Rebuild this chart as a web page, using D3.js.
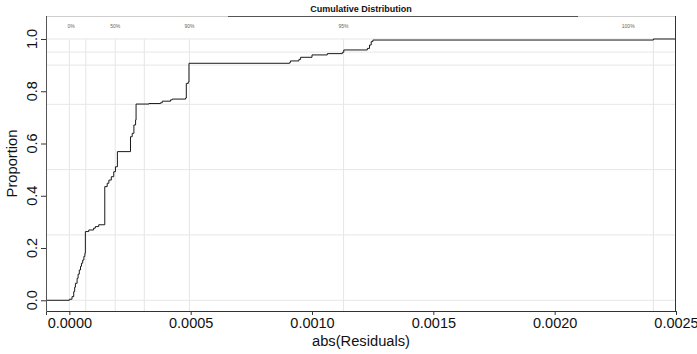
<!DOCTYPE html>
<html>
<head>
<meta charset="utf-8">
<script src="https://cdn.jsdelivr.net/npm/d3@7"></script>
<style>
  html, body { margin: 0; padding: 0; background: #fff; }
  svg { display: block; font-family: "Liberation Sans", Arial, Helvetica, sans-serif; }
</style>
</head>
<body>
<svg id="chart" width="697" height="354"></svg>
<script>
// Empirical CDF of absolute residuals: each step starts at a residual value
// and holds the cumulative proportion reached there.
const stepResiduals = [
  0.000000, 0.000011, 0.000018, 0.000022, 0.000025, 0.000032, 0.000036, 0.000041,
  0.000046, 0.000050, 0.000055, 0.000060, 0.000064, 0.000066, 0.000080, 0.000100,
  0.000107, 0.000121, 0.000146, 0.000156, 0.000163, 0.000173, 0.000183, 0.000190,
  0.000198, 0.000252, 0.000259, 0.000266, 0.000273, 0.000275, 0.000328, 0.000376,
  0.000383, 0.000417, 0.000424, 0.000479, 0.000482, 0.000490, 0.000493, 0.000908,
  0.000911, 0.000946, 0.000953, 0.001000, 0.001063, 0.001125, 0.001131, 0.001228,
  0.001237, 0.001244, 0.001251, 0.002407
];
const stepProportions = [
  0.004, 0.014, 0.033, 0.050, 0.065, 0.084, 0.100, 0.116,
  0.130, 0.142, 0.154, 0.168, 0.180, 0.263, 0.269, 0.276,
  0.282, 0.289, 0.435, 0.448, 0.460, 0.473, 0.492, 0.511,
  0.569, 0.626, 0.639, 0.671, 0.690, 0.751, 0.753, 0.756,
  0.762, 0.767, 0.770, 0.774, 0.830, 0.835, 0.907, 0.910,
  0.916, 0.922, 0.930, 0.939, 0.944, 0.949, 0.958, 0.964,
  0.977, 0.990, 0.996, 1.000
];

// Reference quantiles drawn as grid lines
const quantileProbs  = [0, 0.25, 0.5, 0.75, 0.9, 0.95, 1];
const quantileValues = [0.0000001, 0.0000678, 0.000189, 0.000309, 0.000495, 0.00113, 0.002407];

// Quantile captions along the top strip
const quantileLabels   = ["0%", "50%", "90%", "95%", "100%"];
const quantileLabelAt  = [0.000007, 0.000189, 0.000495, 0.00113, 0.002303];

const xTicks = [0, 0.0005, 0.001, 0.0015, 0.002, 0.0025];
const yTicks = [0, 0.2, 0.4, 0.6, 0.8, 1.0];

const svg = d3.select("#chart");
const pLeft = 46, pRight = 676, pTop = 16, pBottom = 311;

const x = d3.scaleLinear().domain([-0.0000962, 0.0025]).range([pLeft, pRight]);
const y = d3.scaleLinear().domain([-0.041, 1.088]).range([pBottom, pTop]);

const gridColor = "#e6e6e6";

// horizontal grid at quantile probabilities
svg.append("g").selectAll("line").data(quantileProbs).join("line")
  .attr("x1", pLeft).attr("x2", pRight)
  .attr("y1", d => y(d)).attr("y2", d => y(d))
  .attr("stroke", gridColor).attr("stroke-width", 1);

// vertical grid at quantile values, up to the 100% level
svg.append("g").selectAll("line").data(quantileValues).join("line")
  .attr("x1", d => x(d)).attr("x2", d => x(d))
  .attr("y1", pBottom).attr("y2", y(1))
  .attr("stroke", gridColor).attr("stroke-width", 1);

// quantile captions
svg.append("g").selectAll("text").data(quantileLabels).join("text")
  .attr("x", (d, i) => x(quantileLabelAt[i]))
  .attr("y", 27.5)
  .attr("text-anchor", "middle")
  .attr("font-size", 5)
  .attr("fill", "#666")
  .text(d => d);

// ECDF step line, flat from the left edge and extended to the right edge
const pts = [[x.domain()[0], 0]]
  .concat(stepResiduals.map((r, i) => [r, stepProportions[i]]))
  .concat([[x.domain()[1], stepProportions[stepProportions.length - 1]]]);

svg.append("path")
  .datum(pts)
  .attr("fill", "none")
  .attr("stroke", "#1a1a1a")
  .attr("stroke-width", 1)
  .attr("d", d3.line().x(d => x(d[0])).y(d => y(d[1])).curve(d3.curveStepAfter));

// panel border
svg.append("line").attr("x1", pLeft).attr("x2", pRight).attr("y1", pTop + 0.5).attr("y2", pTop + 0.5)
  .attr("stroke", "#cfcfcf");
svg.append("line").attr("x1", 228).attr("x2", 578).attr("y1", pTop + 0.5).attr("y2", pTop + 0.5)
  .attr("stroke", "#555");
svg.append("line").attr("x1", pLeft + 0.5).attr("x2", pLeft + 0.5).attr("y1", pTop).attr("y2", pBottom)
  .attr("stroke", "#555");
svg.append("line").attr("x1", pRight - 0.5).attr("x2", pRight - 0.5).attr("y1", pTop).attr("y2", pBottom + 0.5)
  .attr("stroke", "#333");

// x axis
const xAxis = svg.append("g")
  .attr("transform", `translate(0,${pBottom})`)
  .call(d3.axisBottom(x).tickValues(xTicks).tickFormat(d3.format(".4f")).tickSizeOuter(0).tickSize(4).tickPadding(3));
xAxis.select(".domain").attr("stroke", "#333");
xAxis.selectAll(".tick line").attr("stroke", "#333");
xAxis.selectAll("text").attr("font-size", 14.5).attr("fill", "#111")
  .attr("font-family", "Liberation Sans, Arial, sans-serif");

// y axis with rotated labels
const yAxis = svg.append("g")
  .attr("transform", `translate(${pLeft},0)`)
  .call(d3.axisLeft(y).tickValues(yTicks).tickFormat(d3.format(".1f")).tickSizeOuter(0).tickSize(5));
yAxis.select(".domain").remove();
yAxis.selectAll(".tick line").attr("stroke", "#333");
yAxis.selectAll(".tick text").remove();
svg.append("g").selectAll("text").data(yTicks).join("text")
  .attr("transform", d => `translate(37,${y(d)}) rotate(-90)`)
  .attr("text-anchor", "middle")
  .attr("font-size", 14.5)
  .attr("fill", "#111")
  .text(d3.format(".1f"));

// axis titles
svg.append("text")
  .attr("x", (pLeft + pRight) / 2).attr("y", 346)
  .attr("text-anchor", "middle").attr("font-size", 14.7).attr("fill", "#111")
  .text("abs(Residuals)");
svg.append("text")
  .attr("transform", `translate(17,${(pTop + pBottom) / 2}) rotate(-90)`)
  .attr("text-anchor", "middle").attr("font-size", 14.7).attr("fill", "#111")
  .text("Proportion");

// title
svg.append("text")
  .attr("x", (pLeft + pRight) / 2).attr("y", 11.5)
  .attr("text-anchor", "middle").attr("font-size", 9).attr("font-weight", "bold").attr("fill", "#111")
  .text("Cumulative Distribution");
</script>
</body>
</html>
